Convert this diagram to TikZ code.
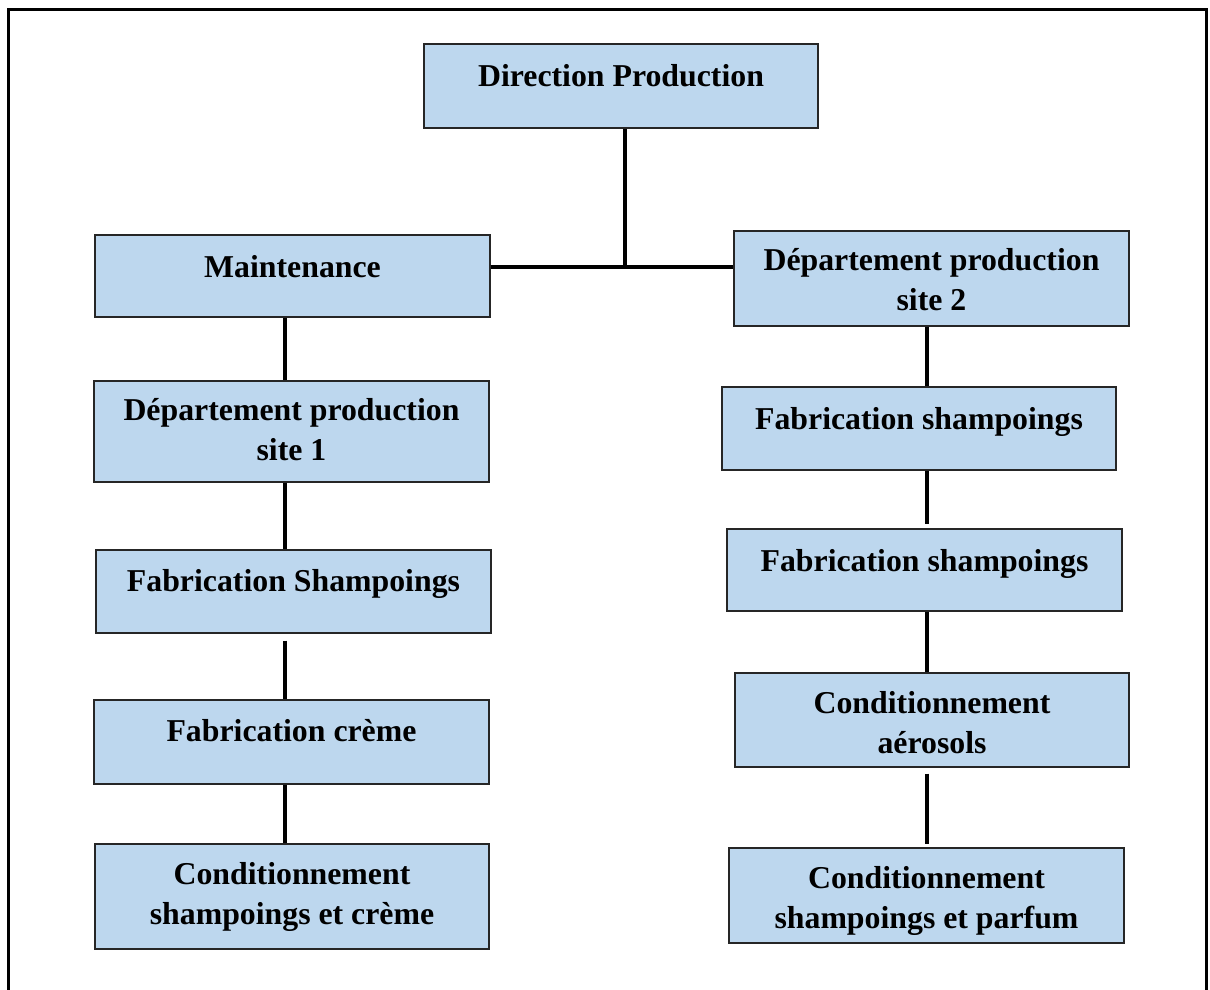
\documentclass[tikz,border=0pt]{standalone}
\usepackage{fontspec}
\setmainfont{Liberation Serif}
\definecolor{boxblue}{RGB}{189,215,238}
\begin{document}
\begin{tikzpicture}[x=1pt,y=-1pt,
  orgbox/.style={draw=black!85, line width=1.2pt, fill=boxblue, rectangle, inner sep=0pt},
  boxtext/.style={anchor=base, font=\fontsize{31.8}{39.5}\selectfont\bfseries, align=center, inner sep=0pt},
  link/.style={line width=3.2pt, black},
  frame/.style={line width=2.8pt, black}]
\useasboundingbox (0,0) rectangle (1210,989);
% outer frame (its lower edge runs below the page)
\draw[frame] (8.8,9.3) rectangle (1206.5,1010);

% boxes
\node[orgbox, minimum width=394pt, minimum height=84pt]  (dir)  at (621,86) {};
\node[orgbox, minimum width=395pt, minimum height=82pt]  (mnt)  at (292.5,276) {};
\node[orgbox, minimum width=395pt, minimum height=95pt]  (dep2) at (931.5,278.5) {};
\node[orgbox, minimum width=395pt, minimum height=101pt] (dep1) at (291.5,431.5) {};
\node[orgbox, minimum width=394pt, minimum height=83pt]  (fr1)  at (919,428.5) {};
\node[orgbox, minimum width=395pt, minimum height=82pt]  (fr2)  at (924.5,570) {};
\node[orgbox, minimum width=395pt, minimum height=83pt]  (fl)   at (293.5,591.5) {};
\node[orgbox, minimum width=395pt, minimum height=84pt]  (crm)  at (291.5,742) {};
\node[orgbox, minimum width=394pt, minimum height=94pt]  (aer)  at (932,720) {};
\node[orgbox, minimum width=394pt, minimum height=105pt] (cl)   at (292,896.5) {};
\node[orgbox, minimum width=395pt, minimum height=95pt]  (cr)   at (926.5,895.5) {};

% labels (base anchor = baseline of the last line)
\node[boxtext] (dirT)  at (621,86.5)   {Direction Production};
\node[boxtext] (mntT)  at (292.5,277)  {Maintenance};
\node[boxtext] (dep2T) at (931.5,310)  {Département production\\site 2};
\node[boxtext] (dep1T) at (291.5,460)  {Département production\\site 1};
\node[boxtext] (fr1T)  at (919,429)    {Fabrication shampoings};
\node[boxtext] (fr2T)  at (924.5,571.5){Fabrication shampoings};
\node[boxtext] (flT)   at (293.5,591.5){Fabrication Shampoings};
\node[boxtext] (crmT)  at (291.5,741.5){Fabrication crème};
\node[boxtext] (aerT)  at (932,753)    {Conditionnement\\aérosols};
\node[boxtext] (clT)   at (292,924)    {Conditionnement\\shampoings et crème};
\node[boxtext] (crT)   at (926.5,928)  {Conditionnement\\shampoings et parfum};

% connectors
\coordinate (junc) at (625,267);
\coordinate (lx) at (285,0);
\coordinate (rx) at (927,0);
\draw[link] (junc |- dir.south) -- (junc);
\draw[link] (junc -| mnt.east) -- (junc -| dep2.west);
\draw[link] (lx |- mnt.south) -- (lx |- dep1.north);
\draw[link] (lx |- dep1.south) -- (lx |- fl.north);
\draw[link, shorten <=7pt] (lx |- fl.south) -- (lx |- crm.north);
\draw[link] (lx |- crm.south) -- (lx |- cl.north);
\draw[link] (rx |- dep2.south) -- (rx |- fr1.north);
\draw[link, shorten >=4pt] (rx |- fr1.south) -- (rx |- fr2.north);
\draw[link] (rx |- fr2.south) -- (rx |- aer.north);
\draw[link, shorten <=6pt, shorten >=3pt] (rx |- aer.south) -- (rx |- cr.north);
\end{tikzpicture}
\end{document}
